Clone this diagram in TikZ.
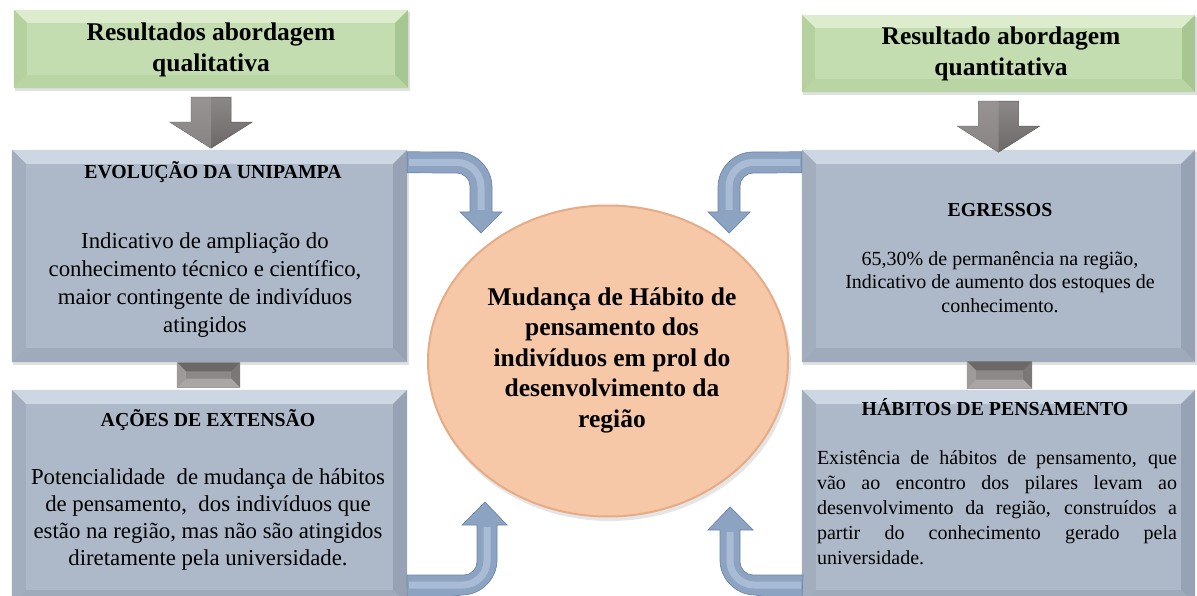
\documentclass[tikz,border=0pt]{standalone}
\usepackage{fontspec}
\setmainfont{Liberation Serif}
\usetikzlibrary{calc,shapes.geometric}
\definecolor{gbase}{HTML}{C3DDB1}
\definecolor{gtop}{HTML}{DCECCD}
\definecolor{gleft}{HTML}{B4D19F}
\definecolor{gright}{HTML}{A8C692}
\definecolor{gbot}{HTML}{B8D5A3}
\definecolor{bbase}{HTML}{ADB8C8}
\definecolor{btop}{HTML}{CDD6E3}
\definecolor{bleft}{HTML}{A2ADBE}
\definecolor{bright}{HTML}{97A2B4}
\definecolor{bbot}{HTML}{9FAABB}
\definecolor{peach}{HTML}{F6C8A8}
\definecolor{peachdark}{HTML}{E5AC86}
\definecolor{arrblue}{HTML}{8CA3C2}
\definecolor{arrblueedge}{HTML}{6D86A8}
\definecolor{arrlight}{HTML}{C4D2E5}
\definecolor{darkg1}{HTML}{8C8887}
\definecolor{darkg2}{HTML}{6C6867}
\definecolor{darkgedge}{HTML}{5E5A59}
\newcommand{\bevel}[6]{%
  \fill[#3] (#1.north west) -- (#1.north east) -- ($(#1.north east)+(-#2,#2)$) -- ($(#1.north west)+(#2,#2)$) -- cycle;
  \fill[#4] (#1.north west) -- ($(#1.north west)+(#2,#2)$) -- ($(#1.south west)+(#2,-#2)$) -- (#1.south west) -- cycle;
  \fill[#5] (#1.north east) -- (#1.south east) -- ($(#1.south east)+(-#2,-#2)$) -- ($(#1.north east)+(-#2,#2)$) -- cycle;
  \fill[#6] (#1.south west) -- (#1.south east) -- ($(#1.south east)+(-#2,-#2)$) -- ($(#1.south west)+(#2,-#2)$) -- cycle;
}
\newcommand{\graydown}[1]{%
  \begin{scope}[shift={(#1.south)}]
    \shade[top color=darkg1, bottom color=darkg2, draw=darkgedge, line width=0.5pt]
      (-20,9) -- (20,9) -- (20,34) -- (41,34) -- (0,60) -- (-41,34) -- (-20,34) -- cycle;
    \fill[darkg1!80!white, opacity=0.5] (-20,9) -- (0,9) -- (0,60) -- (-41,34) -- (-20,34) -- cycle;
  \end{scope}
}
\tikzset{
  gbox/.style={rectangle, inner sep=0pt, fill=gbase, draw=none},
  bbox/.style={rectangle, inner sep=0pt, fill=bbase, draw=none},
  headtxt/.style={inner sep=0pt, align=center, font=\fontsize{25.5}{30.5}\selectfont\bfseries},
  titletxt/.style={inner sep=0pt, align=center, font=\fontsize{19.8}{24}\selectfont\bfseries},
  bodytxt/.style={inner sep=0pt, align=center, font=\fontsize{22.8}{28}\selectfont},
  smalltxt/.style={inner sep=0pt, align=center, font=\fontsize{20}{23.5}\selectfont},
  blockarrow/.style={fill=arrblue, draw=arrblueedge, line width=0.7pt},
  tubelight/.style={draw=arrlight, line width=7pt, opacity=0.55},
  shadowbox/.style={fill=black, opacity=0.12}
}
\begin{document}
\begin{tikzpicture}[x=1pt,y=-1pt]
\useasboundingbox (0,0) rectangle (1197,596);
\clip (0,0) rectangle (1197,596);
\fill[white] (0,0) rectangle (1197,596);

% shadows
\fill[shadowbox] (15,12) rectangle (410,91);
\fill[shadowbox] (803,17) rectangle (1197,95);
\fill[shadowbox] (13,152) rectangle (409,365);
\fill[shadowbox] (803,152) rectangle (1197,365);

% green boxes
\node[gbox, minimum width=394pt, minimum height=78pt] (gq) at (211,49) {};
\bevel{gq}{13}{gtop}{gleft}{gright}{gbot}
\node[gbox, minimum width=393pt, minimum height=77pt] (gn) at (998.5,53.5) {};
\bevel{gn}{13}{gtop}{gleft}{gright}{gbot}

% gray-blue boxes
\node[bbox, minimum width=395pt, minimum height=212pt] (b1) at (209.5,256) {};
\bevel{b1}{14}{btop}{bleft}{bright}{bbot}
\node[bbox, minimum width=395pt, minimum height=214pt] (b2) at (209.5,497) {};
\bevel{b2}{14}{btop}{bleft}{bright}{bbot}
\node[bbox, minimum width=393pt, minimum height=212pt] (r1) at (998.5,256) {};
\bevel{r1}{14}{btop}{bleft}{bright}{bbot}
\node[bbox, minimum width=393pt, minimum height=214pt] (r2) at (998.5,497) {};
\bevel{r2}{14}{btop}{bleft}{bright}{bbot}

% gray down arrows
\graydown{gq}
\graydown{gn}

% small gray connectors
\node[rectangle, inner sep=0pt, fill=darkg1, minimum width=63pt, minimum height=25pt] (c1) at ($(b1.south)!0.5!(b2.north)+(-1,-1)$) {};
\bevel{c1}{9}{darkg2}{darkg1!85!white}{darkg2!90!white}{darkg1!75!white}
\node[rectangle, inner sep=0pt, fill=darkg1, minimum width=65pt, minimum height=27pt] (c2) at ($(r1.south)!0.5!(r2.north)+(1,-1)$) {};
\bevel{c2}{9}{darkg2}{darkg1!85!white}{darkg2!90!white}{darkg1!75!white}

% central ellipse
\fill[black, opacity=0.10] (610,365) ellipse (181pt and 156pt);
\node[ellipse, inner sep=0pt, minimum width=360pt, minimum height=311pt, fill=peach, draw=peachdark, line width=2pt] (ctr) at (608,361) {};

% blue bent arrows
\draw[blockarrow] ($(b1.north east)+(0,2)$) -- (457,152) .. controls (476,152) and (492,168) .. (492,187) -- (492,212) -- (502,212) -- (481,233) -- (460,212) -- (470,212) -- (470,186) .. controls (470,179) and (464,173) .. (457,173) -- ($(b1.north east)+(0,23)$) -- cycle;
\draw[tubelight] ($(b1.north east)+(2,12.5)$) -- (457,162.5) .. controls (470,162.5) and (481,173) .. (481,187) -- (481,210);
\draw[blockarrow] ($(r1.north west)+(0,2)$) -- (753,152) .. controls (734,152) and (718,168) .. (718,187) -- (718,212) -- (708,212) -- (729,233) -- (750,212) -- (740,212) -- (740,186) .. controls (740,179) and (746,173) .. (753,173) -- ($(r1.north west)+(0,23)$) -- cycle;
\draw[tubelight] ($(r1.north west)+(-2,12.5)$) -- (753,162.5) .. controls (740,162.5) and (729,173) .. (729,187) -- (729,210);
\draw[blockarrow] ($(b2.south east)+(0,-2)$) -- (462,595) .. controls (481,595) and (497,579) .. (497,560) -- (497,525) -- (507,525) -- (485,502) -- (462,525) -- (477,525) -- (477,562) .. controls (477,569) and (471,575) .. (464,575) -- (407,575) -- cycle;
\draw[tubelight] (409,585) -- (463,585) .. controls (476,585) and (487,574) .. (487,561) -- (487,527);
\draw[blockarrow] ($(r2.south west)+(0,-2)$) -- (755,595) .. controls (736,595) and (720,579) .. (720,560) -- (720,530) -- (708,530) -- (730,507) -- (753,530) -- (740,530) -- (740,562) .. controls (740,569) and (746,575) .. (753,575) -- (803,575) -- cycle;
\draw[tubelight] (801,585) -- (754,585) .. controls (741,585) and (730,574) .. (730,561) -- (730,532);

% texts
\node[headtxt] (tc) at (612,360) {Mudança de Hábito de\\pensamento dos\\indivíduos em prol do\\desenvolvimento da\\região};

\node[inner sep=0pt, text width=360pt, align=justify, font=\fontsize{20}{25}\selectfont] (x4) at (997,508) {Existência de hábitos de pensamento, que\linebreak vão ao encontro dos pilares levam ao\linebreak desenvolvimento da região, construídos a\linebreak partir do conhecimento gerado pela\linebreak universidade.};
\node[titletxt] (t4) at (995,407) {HÁBITOS DE PENSAMENTO};

\node[smalltxt] (x3) at (1000,282) {65,30\% de permanência na região,\\Indicativo de aumento dos estoques de\\conhecimento.};
\node[titletxt] (t3) at (1000,210) {EGRESSOS};

\node[bodytxt, font=\fontsize{22.8}{27}\selectfont] (x2) at (208,519) {Potencialidade\ \ de mudança de hábitos\\de pensamento,\ \ dos indivíduos que\\estão na região, mas não são atingidos\\diretamente pela universidade.};
\node[titletxt] (t2) at (208,420) {AÇÕES DE EXTENSÃO};

\node[bodytxt] (x1) at (205,285) {Indicativo de ampliação do\\conhecimento técnico e científico,\\maior contingente de indivíduos\\atingidos};
\node[titletxt] (t1) at (213,172) {EVOLUÇÃO DA UNIPAMPA};

\node[headtxt] (tn) at (1001,54) {Resultado abordagem\\quantitativa};
\node[headtxt] (tq) at (211,50) {Resultados abordagem\\qualitativa};
\end{tikzpicture}
\end{document}
